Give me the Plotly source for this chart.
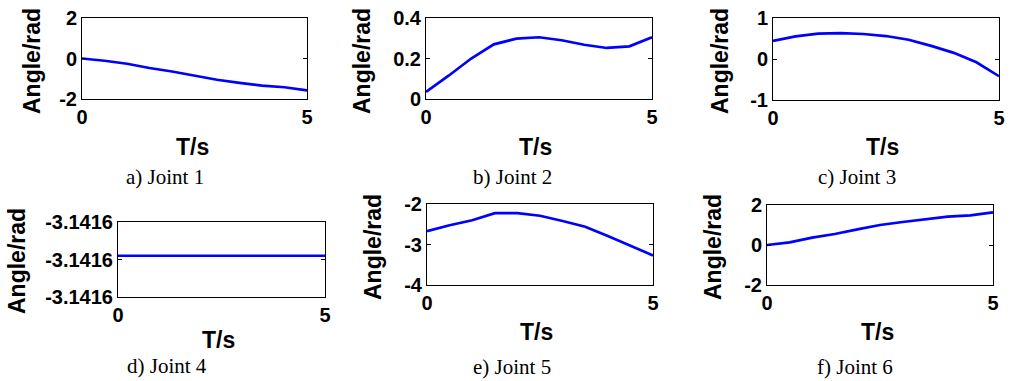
import plotly.graph_objects as go

# ---- data ----
time_s = [0, 0.5, 1, 1.5, 2, 2.5, 3, 3.5, 4, 4.5, 5]
joint1 = [0.0, -0.11, -0.26, -0.47, -0.64, -0.83, -1.05, -1.2, -1.34, -1.42, -1.57]
joint2 = [0.035, 0.115, 0.2, 0.27, 0.298, 0.305, 0.29, 0.268, 0.252, 0.26, 0.305]
joint3 = [0.44, 0.55, 0.62, 0.63, 0.61, 0.56, 0.47, 0.32, 0.15, -0.08, -0.42]
joint4 = [-3.14159265] * 11
joint5 = [-2.67, -2.525, -2.4, -2.225, -2.225, -2.29, -2.42, -2.56, -2.79, -3.02, -3.27]
joint6 = [0.0, 0.13, 0.37, 0.55, 0.78, 1.0, 1.15, 1.28, 1.42, 1.48, 1.63]

captions = ["a) Joint 1", "b) Joint 2", "c) Joint 3", "d) Joint 4", "e) Joint 5", "f) Joint 6"]
x_ticks = [0, 5]
y_ranges = [[-2, 2], [0, 0.4], [-1, 1], None, [-4, -2], [-2, 2]]
y_tickvals = [[-2, 0, 2], [0, 0.2, 0.4], [-1, 0, 1], None, [-4, -3, -2], [-2, 0, 2]]
y_ticktext = [["-2", "0", "2"], ["0", "0.2", "0.4"], ["-1", "0", "1"],
              ["-3.1416", "-3.1416", "-3.1416"], ["-4", "-3", "-2"], ["-2", "0", "2"]]

W, H = 1011, 381
# axes boxes in pixels: x0, x1, y0(top), y1(bottom)
boxes = [(82, 307, 18, 99), (426, 652, 18, 99), (773, 999, 18, 100),
         (118, 325, 222, 297), (427, 653, 204, 285), (767, 993, 205, 285)]
tsx = [(192, 147), (535, 147), (882, 147), (218, 340), (536, 332), (877, 332)]
ylab = [(32, 61), (362, 61), (720, 61), (17, 261), (373, 247), (713, 247)]
cap = [(165, 177), (512, 177), (857, 177), (167, 366), (512, 367), (855, 367)]

series = [joint1, joint2, joint3, joint4, joint5, joint6]

fig = go.Figure()
bold = dict(family="Liberation Sans", size=20, color="black", weight="bold")
layout = dict(template="none", width=W, height=H, margin=dict(l=0, r=0, t=0, b=0),
              paper_bgcolor="white", plot_bgcolor="white", showlegend=False)
annotations = []

d4 = joint4[0]
d4_range = [d4 - 1.1e-6, d4 + 0.9e-6]
d4_ticks = [d4_range[0], d4 - 0.1e-6, d4_range[1]]

for i, ys in enumerate(series):
    n = "" if i == 0 else str(i + 1)
    fig.add_trace(go.Scatter(x=time_s, y=ys, mode="lines",
                             line=dict(color="#0000FF", width=2.7),
                             xaxis="x" + n, yaxis="y" + n))
    x0, x1, y0, y1 = boxes[i]
    common = dict(showline=True, linecolor="black", linewidth=1, mirror="ticks",
                  ticks="inside", ticklen=4, tickcolor="black", showgrid=False,
                  zeroline=False, tickfont=bold, automargin=False)
    layout["xaxis" + n] = dict(domain=[x0 / W, x1 / W], range=[0, 5], tickvals=x_ticks,
                               anchor="y" + n, **common)
    if i == 3:
        yr, tv = d4_range, d4_ticks
    else:
        yr, tv = y_ranges[i], y_tickvals[i]
    layout["yaxis" + n] = dict(domain=[1 - y1 / H, 1 - y0 / H], range=yr, tickvals=tv,
                               ticktext=y_ticktext[i], anchor="x" + n, **common)
    annotations.append(dict(text="<b>T/s</b>", x=tsx[i][0] / W, y=1 - tsx[i][1] / H,
                            xref="paper", yref="paper", showarrow=False,
                            xanchor="center", yanchor="middle",
                            font=dict(family="Liberation Sans", size=23, color="black")))
    annotations.append(dict(text="<b>Angle/rad</b>", x=ylab[i][0] / W, y=1 - ylab[i][1] / H,
                            xref="paper", yref="paper", showarrow=False, textangle=-90,
                            xanchor="center", yanchor="middle",
                            font=dict(family="Liberation Sans", size=23, color="black")))
    annotations.append(dict(text=captions[i], x=cap[i][0] / W, y=1 - cap[i][1] / H,
                            xref="paper", yref="paper", showarrow=False,
                            xanchor="center", yanchor="middle",
                            font=dict(family="Liberation Serif", size=21, color="black")))

layout["annotations"] = annotations
fig.update_layout(**layout)
fig.write_html("out.html", config={"displayModeBar": False},
               post_script="document.body.style.margin='0';document.body.style.overflow='hidden';")
